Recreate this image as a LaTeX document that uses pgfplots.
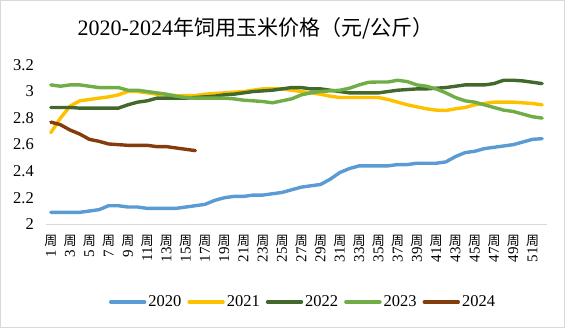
\documentclass[border=0pt]{standalone}
\usepackage{pgfplots}
\pgfplotsset{compat=1.18}
\usepackage{pgfplotstable}
\usepackage{fontspec}
\setmainfont{Liberation Serif}
\newfontfamily\cjk{Noto Sans CJK SC}
\definecolor{c20}{HTML}{5B9BD5}
\definecolor{c21}{HTML}{FFC000}
\definecolor{c22}{HTML}{43682B}
\definecolor{c23}{HTML}{70AD47}
\definecolor{c24}{HTML}{843C0C}
\newcommand{\wk}[1]{\begin{tabular}{@{}c@{}}{\cjk\fontsize{13}{13}\selectfont 周}\\[-3pt]\rotatebox{90}{#1}\end{tabular}}

\pgfplotstableread{
w y20 y21 y22 y23
1 2.09 2.69 2.88 3.05
2 2.09 2.80 2.88 3.04
3 2.09 2.89 2.88 3.05
4 2.09 2.93 2.875 3.05
5 2.10 2.94 2.875 3.04
6 2.11 2.95 2.875 3.03
7 2.14 2.96 2.875 3.03
8 2.14 2.975 2.875 3.03
9 2.13 3.00 2.90 3.01
10 2.13 3.00 2.92 3.01
11 2.12 2.99 2.93 3.00
12 2.12 2.98 2.95 2.99
13 2.12 2.975 2.95 2.98
14 2.12 2.97 2.95 2.965
15 2.13 2.97 2.95 2.955
16 2.14 2.97 2.955 2.95
17 2.15 2.98 2.96 2.95
18 2.18 2.985 2.965 2.95
19 2.20 2.99 2.975 2.95
20 2.21 2.995 2.98 2.945
21 2.21 3.00 2.99 2.935
22 2.22 3.01 3.00 2.93
23 2.22 3.02 3.005 2.925
24 2.23 3.02 3.01 2.915
25 2.24 3.02 3.02 2.93
26 2.26 3.01 3.03 2.945
27 2.28 3.00 3.03 2.975
28 2.29 2.99 3.02 2.99
29 2.30 2.98 3.02 3.00
30 2.34 2.965 3.01 3.005
31 2.39 2.955 3.00 3.01
32 2.42 2.955 2.99 3.025
33 2.44 2.955 2.99 3.05
34 2.44 2.955 2.99 3.07
35 2.44 2.955 2.99 3.072
36 2.44 2.94 3.00 3.072
37 2.45 2.92 3.01 3.085
38 2.45 2.90 3.015 3.075
39 2.46 2.885 3.02 3.05
40 2.46 2.87 3.02 3.04
41 2.46 2.86 3.025 3.02
42 2.47 2.857 3.03 2.99
43 2.51 2.87 3.04 2.955
44 2.54 2.88 3.05 2.93
45 2.55 2.90 3.05 2.92
46 2.57 2.91 3.05 2.90
47 2.58 2.92 3.06 2.88
48 2.59 2.92 3.085 2.86
49 2.60 2.92 3.085 2.85
50 2.62 2.915 3.08 2.83
51 2.64 2.91 3.07 2.81
52 2.645 2.90 3.06 2.80
}\datamain

\pgfplotstableread{
w y24
1 2.77
2 2.75
3 2.71
4 2.68
5 2.64
6 2.625
7 2.605
8 2.60
9 2.595
10 2.595
11 2.595
12 2.585
13 2.585
14 2.575
15 2.565
16 2.555
}\datab

\begin{document}
\begin{tikzpicture}
\path[use as bounding box] (0pt,0pt) rectangle (566pt,328pt);
\draw[black!15, line width=0.8pt] (0.5pt,0.5pt) rectangle (564.5pt,327.5pt);
\node[font=\fontsize{22}{26}\selectfont, inner sep=0pt] at (255.5pt,300pt) {2020-2024{\cjk\fontsize{21}{26}\selectfont 年饲用玉米价格（元/公斤）}};
\begin{axis}[
  at={(46pt,103.7pt)}, anchor=south west,
  scale only axis, width=501pt, height=159.3pt,
  xmin=0.5, xmax=52.5, ymin=2, ymax=3.2,
  ytick={2,2.2,2.4,2.6,2.8,3,3.2},
  xtick={1,3,...,51},
  xticklabels={\wk{1},\wk{3},\wk{5},\wk{7},\wk{9},\wk{11},\wk{13},\wk{15},\wk{17},\wk{19},\wk{21},\wk{23},\wk{25},\wk{27},\wk{29},\wk{31},\wk{33},\wk{35},\wk{37},\wk{39},\wk{41},\wk{43},\wk{45},\wk{47},\wk{49},\wk{51}},
  /pgf/number format/assume math mode=true,
  major tick length=0pt,
  axis x line*=bottom, axis y line*=left,
  x axis line style={draw=black!15, line width=0.8pt, -},
  y axis line style={draw=none},
  tick label style={font=\fontsize{16.5}{18}\selectfont},
  yticklabel style={anchor=east, inner sep=0pt, xshift=-12pt},
  xticklabel style={anchor=north, inner sep=0pt, yshift=-11pt, font=\fontsize{15}{15}\selectfont},
  clip=false,
  every axis plot/.append style={line width=3.4pt, line join=round, line cap=round, no marks},
  legend columns=5,
  legend style={at={(0.513,-0.488)}, anchor=center, draw=none, fill=none,
    font=\fontsize{16.5}{18}\selectfont, inner sep=0pt,
    /tikz/every even column/.append style={column sep=4pt}},
  legend image code/.code={\draw[#1] (0pt,0pt) -- (34pt,0pt);},
]
\addplot[c20] table[x=w,y=y20] {\datamain};
\addlegendentry{2020}
\addplot[c21] table[x=w,y=y21] {\datamain};
\addlegendentry{2021}
\addplot[c22] table[x=w,y=y22] {\datamain};
\addlegendentry{2022}
\addplot[c23] table[x=w,y=y23] {\datamain};
\addlegendentry{2023}
\addplot[c24] table[x=w,y=y24] {\datab};
\addlegendentry{2024}
\end{axis}
\end{tikzpicture}
\end{document}
